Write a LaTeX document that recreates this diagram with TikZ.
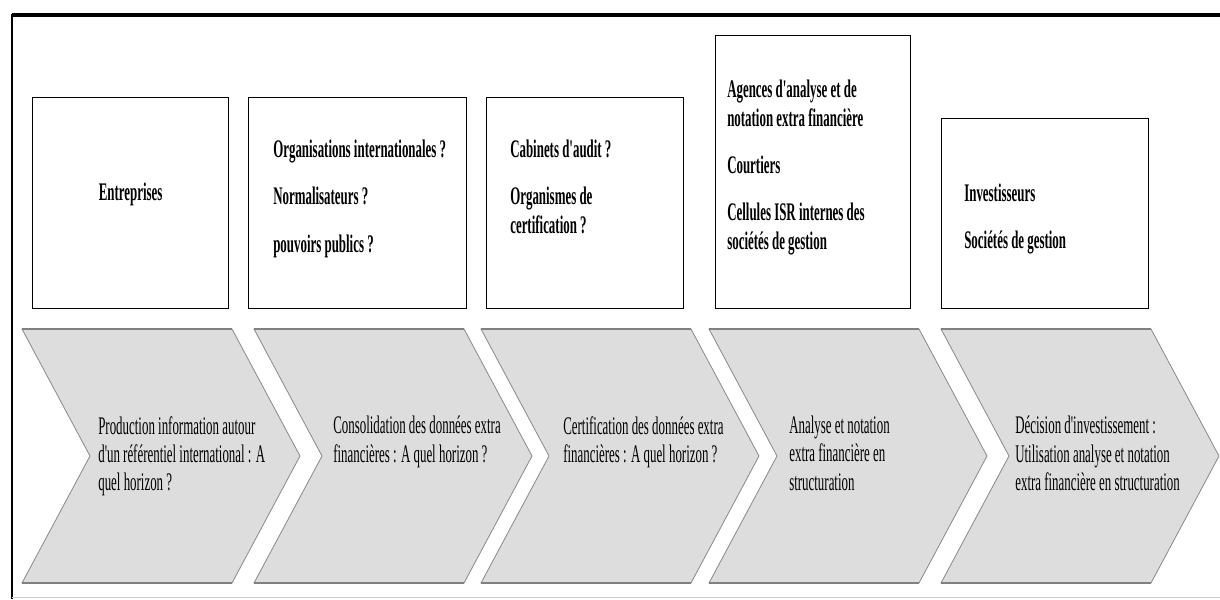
\documentclass[tikz,border=0pt]{standalone}
\usepackage{fontspec}
\newfontfamily\narrowserif[FakeStretch=0.51]{Liberation Serif}
\usepackage{tikz}
\usetikzlibrary{positioning}

\begin{document}
\begin{tikzpicture}[x=0.025cm, y=-0.025cm]
  \tikzset{ActorStyle/.style 2 args = {shape          = rectangle,
                                       draw, black,
                                       line width     = 0.8pt,
                                       anchor         = north west,
                                       inner sep      = 0pt,
                                       minimum width  = #1,
                                       minimum height = #2},
           ActorText/.style  = {font = \narrowserif\bfseries\fontsize{18}{20.5}\selectfont,
                                align = left, inner sep = 0pt},
           StepText/.style   = {font = \narrowserif\fontsize{18}{20}\selectfont,
                                align = left, inner sep = 0pt},
           ChevronStyle/.style = {fill=gray!27, draw=gray!90, line width=0.6pt},
           ChevronEdge/.style  = {draw=gray, line width=1.8pt}}
  \useasboundingbox (0,0) rectangle (1220,599);
  %%% CADRE %%%
  \draw[line width=2.6pt] (1220,15) -- (12,15);
  \draw[line width=2pt] (12,14) -- (12,599);
  \draw[gray!40, line width=0.6pt] (12,597.5) -- (1220,597.5);
  %%% ACTEURS %%%
  \node[ActorStyle={4.9cm}{5.275cm}] (entreprises) at (32,97) {};
  \node[ActorText] (tEntreprises) at ([yshift=0.21cm]entreprises.center) {Entreprises};
  %
  \node[ActorStyle={5.45cm}{5.275cm}] (normalisateurs) at (248,97) {};
  \node[ActorText, below right=1.075cm and 0.625cm of normalisateurs.north west] (tNormalisateurs)
    {Organisations internationales ?\\[13pt] Normalisateurs ?\\[13pt] pouvoirs publics ?};
  %
  \node[ActorStyle={4.925cm}{5.275cm}] (auditeurs) at (486,97) {};
  \node[ActorText, below right=1.075cm and 0.6cm of auditeurs.north west] (tAuditeurs)
    {Cabinets d'audit ?\\[13pt] Organismes de\\ certification ?};
  %
  \node[ActorStyle={4.875cm}{6.825cm}] (agences) at (715,35) {};
  \node[ActorText, below right=1.125cm and 0.3cm of agences.north west] (tAgences)
    {Agences d'analyse et de\\ notation extra financière\\[13pt] Courtiers\\[13pt]
     Cellules ISR internes des\\ sociétés de gestion};
  %
  \node[ActorStyle={5.175cm}{4.75cm}] (investisseurs) at (941,118) {};
  \node[ActorText, below right=1.65cm and 0.575cm of investisseurs.north west] (tInvestisseurs)
    {Investisseurs\\[13pt] Sociétés de gestion};
  %%% CHAINE DE VALEUR %%%
  \foreach \x [count=\i] in {22,254,481,709,941}{
    \coordinate (c\i) at (\x,329);
    \draw[ChevronStyle] (c\i) -- ++(210,0) -- ++(68,127) -- ++(-68,127)
                        -- ++(-210,0) -- ++(68,-127) -- cycle;
    \draw[ChevronEdge] (c\i) -- ++(210,0);
    \draw[ChevronEdge] (\x,583) -- ++(210,0);
  }
  \node[StepText, below right=2.175cm and 1.9cm of c1] (production)
    {Production information autour\\ d'un référentiel international : A\\ quel horizon ?};
  \node[StepText, below right=2.175cm and 1.975cm of c2] (consolidation)
    {Consolidation des données extra\\ financières : A quel horizon ?};
  \node[StepText, below right=2.175cm and 2.05cm of c3] (certification)
    {Certification des données extra\\ financières : A quel horizon ?};
  \node[StepText, below right=2.175cm and 2cm of c4] (analyse)
    {Analyse et notation\\ extra financière en\\ structuration};
  \node[StepText, below right=2.175cm and 1.85cm of c5] (decision)
    {Décision d'investissement :\\ Utilisation analyse et notation\\ extra financière en structuration};
\end{tikzpicture}
\end{document}
